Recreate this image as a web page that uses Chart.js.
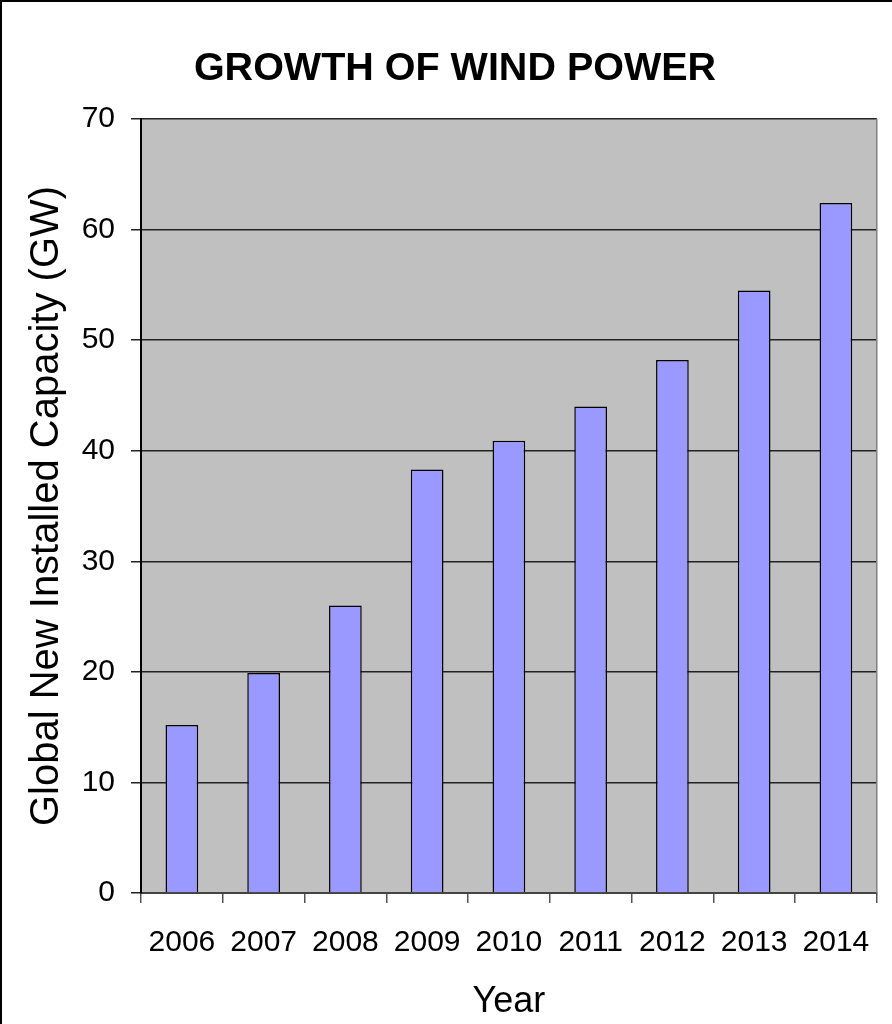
<!DOCTYPE html>
<html>
<head>
<meta charset="utf-8">
<script src="https://cdn.jsdelivr.net/npm/chart.js@4.4.1/dist/chart.umd.min.js"></script>
<style>
  html, body { margin: 0; padding: 0; background: #fff; }
  #wrap { width: 892px; height: 1024px; }
</style>
</head>
<body>
<div id="wrap"><canvas id="windChart" width="892" height="1024"></canvas></div>
<script>
const years = ["2006", "2007", "2008", "2009", "2010", "2011", "2012", "2013", "2014"];
const capacityGW = [15.2, 19.9, 26.0, 38.3, 40.9, 44.0, 48.2, 54.5, 62.4];
const yTicks = [0, 10, 20, 30, 40, 50, 60, 70];
const chartTitle = "GROWTH OF WIND POWER";
const yTitle = "Global New Installed Capacity (GW)";
const xTitle = "Year";

const FONT = "'Liberation Sans', Arial, sans-serif";

// fond gris de la zone de tracé + cadre + titre
const framePlugin = {
  id: "frame",
  beforeDraw(chart) {
    const { ctx, chartArea: a } = chart;
    ctx.save();
    ctx.fillStyle = "#fff";
    ctx.fillRect(0, 0, chart.width, chart.height);
    ctx.fillStyle = "#c0c0c0";
    ctx.fillRect(a.left, a.top, a.right - a.left, a.bottom - a.top);
    ctx.restore();
  },
  afterDraw(chart) {
    const { ctx, chartArea: a } = chart;
    ctx.save();
    ctx.strokeStyle = "#808080";
    ctx.lineWidth = 1.5;
    ctx.beginPath();
    ctx.moveTo(a.right, a.top);
    ctx.lineTo(a.right, a.bottom);
    ctx.stroke();

    ctx.strokeStyle = "#000";
    ctx.lineWidth = 2;
    ctx.beginPath();
    ctx.moveTo(1, chart.height);
    ctx.lineTo(1, 1);
    ctx.lineTo(chart.width, 1);
    ctx.stroke();

    ctx.fillStyle = "#000";
    ctx.font = "bold 39.5px " + FONT;
    ctx.textAlign = "center";
    ctx.textBaseline = "middle";
    ctx.fillText(chartTitle, 455, 69);
    ctx.restore();
  },
};

const ctx = document.getElementById("windChart").getContext("2d");
const chart = new Chart(ctx, {
  type: "bar",
  data: {
    labels: years,
    datasets: [
      {
        data: capacityGW,
        backgroundColor: "#9999ff",
        borderColor: "#000",
        borderWidth: 1.5,
        barPercentage: 0.4,
        categoryPercentage: 1,
      },
    ],
  },
  options: {
    responsive: false,
    animation: false,
    events: [],
    layout: { padding: { top: 119, right: 13, left: 0, bottom: 0 } },
    plugins: {
      legend: { display: false },
      title: { display: false },
      tooltip: { enabled: false },
    },
    scales: {
      x: {
        afterFit: (s) => { s.height = 131; },
        grid: {
          offset: true,
          drawOnChartArea: false,
          drawTicks: true,
          tickLength: 10,
          color: "#555",
          lineWidth: 1.5,
        },
        border: { color: "#444", width: 2 },
        ticks: { color: "#000", padding: 22, font: { family: FONT, size: 30 } },
        title: {
          display: true,
          text: xTitle,
          color: "#000",
          font: { family: FONT, size: 36 },
          padding: { top: 0, bottom: 0 },
        },
      },
      y: {
        min: 0,
        max: 70,
        afterFit: (s) => { s.width = 141; },
        afterBuildTicks: (s) => { s.ticks = yTicks.map((v) => ({ value: v })); },
        grid: {
          color: "#222",
          lineWidth: 1.5,
          tickLength: 10,
        },
        border: { color: "#000", width: 2 },
        ticks: { color: "#000", padding: 16, font: { family: FONT, size: 30 } },
        title: {
          display: true,
          text: yTitle,
          color: "#000",
          font: { family: FONT, size: 40 },
          padding: { top: 23, bottom: 0 },
        },
      },
    },
  },
  plugins: [framePlugin],
});
</script>
</body>
</html>
